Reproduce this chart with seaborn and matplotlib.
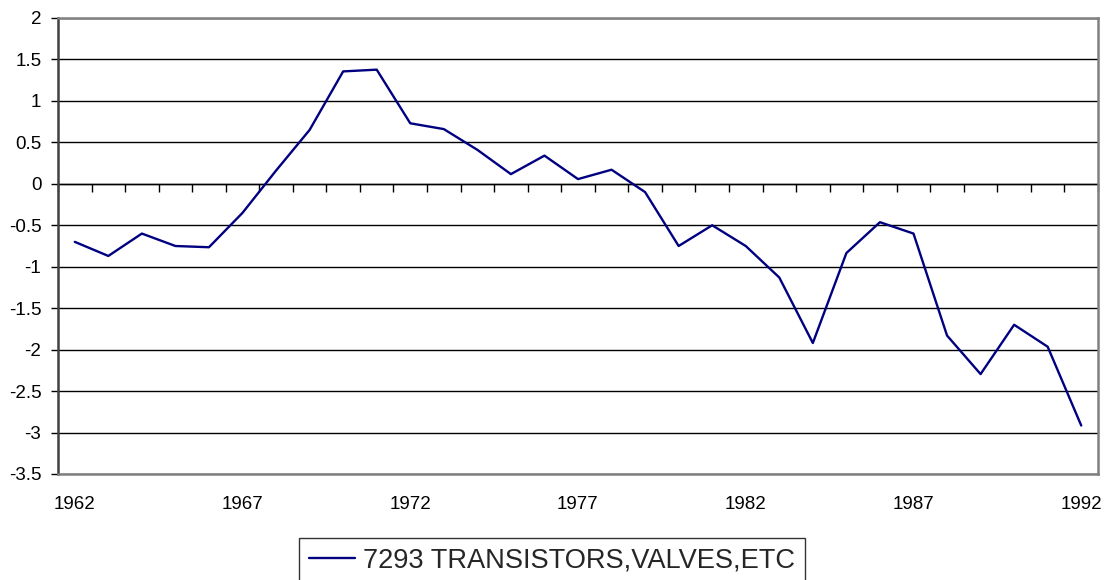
import matplotlib
matplotlib.use("Agg")
import matplotlib.pyplot as plt
import seaborn as sns
import pandas as pd
import numpy as np

years = list(range(1962, 1993))
values = [-0.70, -0.87, -0.60, -0.75, -0.765, -0.35, 0.16, 0.65, 1.356, 1.377,
          0.73, 0.66, 0.41, 0.117, 0.34, 0.057, 0.17, -0.10, -0.75, -0.50,
          -0.75, -1.13, -1.92, -0.835, -0.463, -0.60, -1.83, -2.295, -1.70, -1.965,
          -2.915]
series_name = "7293 TRANSISTORS,VALVES,ETC"
y_ticks = [2, 1.5, 1, 0.5, 0, -0.5, -1, -1.5, -2, -2.5, -3, -3.5]
x_label_years = [1962, 1967, 1972, 1977, 1982, 1987, 1992]

df = pd.DataFrame({"year": years, "value": values, "series": series_name})

sns.set_theme(style="white")
plt.rcParams['font.family'] = ['Liberation Sans', 'DejaVu Sans']

fig = plt.figure(figsize=(11.07, 5.8), dpi=100)
ax = fig.add_axes([58/1107, 1-474/580, (1098-58)/1107, (474-18)/580])

sns.lineplot(data=df, x="year", y="value", hue="series", palette=["#000080"],
             linewidth=1.7, ax=ax, legend=True)

ax.set_xlim(years[0]-0.5, years[-1]+0.5)
ax.set_ylim(min(y_ticks), max(y_ticks))
ax.set_yticks(y_ticks)
ax.set_yticklabels([f"{t:g}" for t in y_ticks])
ax.yaxis.grid(True, color="black", linewidth=1.0)
ax.set_axisbelow(True)

ax.set_xticks(x_label_years)
ax.set_xticklabels([str(y) for y in x_label_years])
ax.tick_params(axis="x", length=0, pad=16, labelsize=13.5, colors="black")
ax.tick_params(axis="y", length=5, width=1, direction="out", pad=7,
               labelsize=13.5, colors="black", left=True)
ax.set_xlabel("")
ax.set_ylabel("")

for side in ["top", "right", "bottom"]:
    ax.spines[side].set_color("#808080")
    ax.spines[side].set_linewidth(1.8)
ax.spines["left"].set_color("#404040")
ax.spines["left"].set_linewidth(1.8)

# category axis crossing at zero with boundary ticks
sec = ax.secondary_xaxis(0, transform=ax.transData)
bounds = np.arange(years[0]-0.5, years[-1]+1.0, 1.0)
sec.set_xticks(bounds)
sec.set_xticklabels([])
sec.tick_params(axis="x", direction="out", length=6, width=1, colors="black")
sec.spines["bottom"].set_color("black")
sec.spines["bottom"].set_linewidth(1.0)

ax.get_legend().remove()
handles, labels = ax.get_legend_handles_labels()
leg = fig.legend(handles, labels, loc="upper center", bbox_to_anchor=(0.4985, 1-538/580),
                 fontsize=19.6, frameon=True, fancybox=False, edgecolor="black",
                 handlelength=1.7, handletextpad=0.3, borderpad=0.35,
                 borderaxespad=0)
leg.get_frame().set_linewidth(1.0)
for l in leg.get_lines():
    l.set_linewidth(1.7)

fig.savefig("out.png", dpi=100)
